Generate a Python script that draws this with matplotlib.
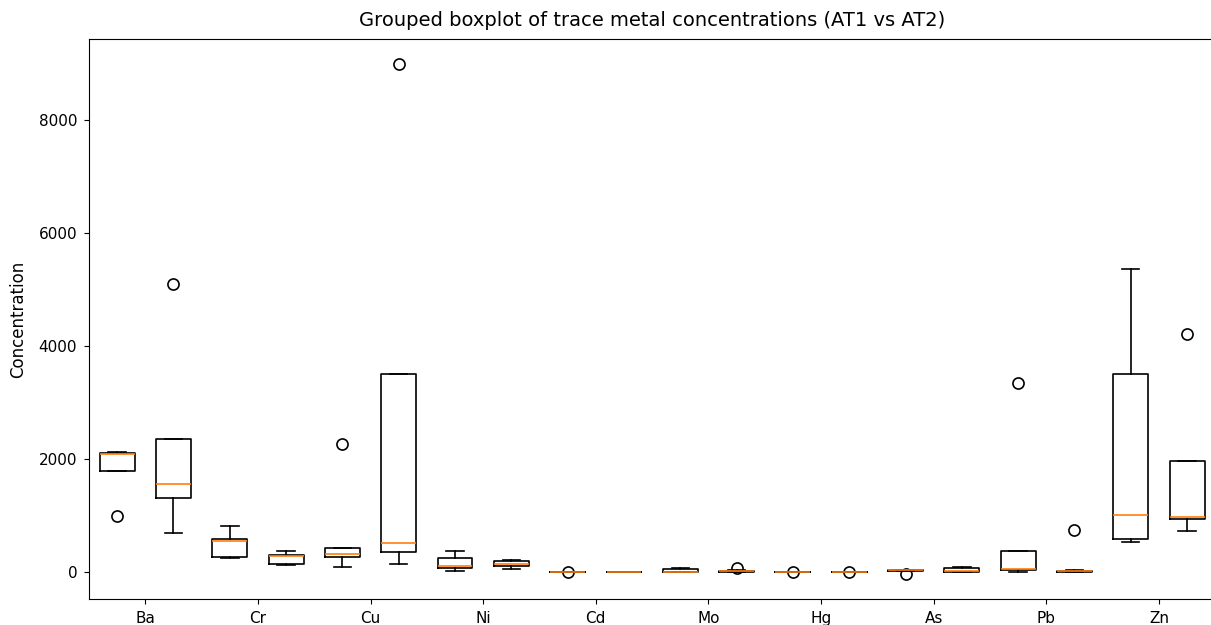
import numpy as np
from matplotlib import pyplot as plt

metals = ['Ba', 'Cr', 'Cu', 'Ni', 'Cd', 'Mo', 'Hg', 'As', 'Pb', 'Zn']

# AT1 box statistics per metal
at1_med = [2100, 560, 320, 120, 0.8, 12, 0.3, 35, 60, 1020]
at1_q1 = [1790, 270, 270, 85, 0.5, 3, 0.2, 30, 35, 595]
at1_q3 = [2110, 600, 440, 260, 1.2, 68, 0.4, 40, 385, 3505]
at1_whislo = [1790, 250, 95, 30, 0.3, 1, 0.1, 28, 12, 535]
at1_whishi = [2140, 820, 440, 385, 1.5, 70, 0.5, 45, 385, 5375]
at1_fliers = [[1000], [], [2280], [], [3.5], [], [1.5], [-20], [3360], []]

# AT2 box statistics per metal
at2_med = [1560, 285, 515, 155, 0.5, 22, 0.3, 30, 22, 980]
at2_q1 = [1320, 155, 360, 118, 0.3, 15, 0.2, 8, 15, 950]
at2_q3 = [2355, 300, 3505, 195, 0.7, 30, 0.4, 80, 30, 1965]
at2_whislo = [695, 135, 150, 58, 0.2, 10, 0.1, 4, 10, 725]
at2_whishi = [2355, 375, 3505, 212, 0.9, 40, 0.5, 90, 35, 1965]
at2_fliers = [[5110], [], [9000], [], [], [75], [1.5], [], [745], [4215]]


def make_stats(med, q1, q3, whislo, whishi, fliers):
    stats = []
    for i in range(len(med)):
        stats.append({'med': med[i], 'q1': q1[i], 'q3': q3[i],
                      'whislo': whislo[i], 'whishi': whishi[i],
                      'fliers': fliers[i]})
    return stats


at1_stats = make_stats(at1_med, at1_q1, at1_q3, at1_whislo, at1_whishi, at1_fliers)
at2_stats = make_stats(at2_med, at2_q1, at2_q3, at2_whislo, at2_whishi, at2_fliers)

x = np.arange(1, len(metals) + 1)

fig = plt.figure(figsize=(12.11, 6.25), dpi=100)
ax = fig.add_axes([0.0735, 0.0416, 0.93, 0.896])

flier_style = dict(marker='o', markersize=8, markerfacecolor='none',
                   markeredgecolor='black', markeredgewidth=1.2)
line_style = dict(color='black', linewidth=1.2)
median_style = dict(color='#ff7f0e', linewidth=1.2)

for stats, offset in ((at1_stats, -0.25), (at2_stats, 0.25)):
    ax.bxp(stats, positions=x + offset, widths=0.31, manage_ticks=False,
           boxprops=line_style, whiskerprops=line_style, capprops=line_style,
           medianprops=median_style, flierprops=flier_style)

ax.set_xticks(x)
ax.set_xticklabels(metals)
ax.set_xlim(0.5, 10.5)
ax.set_ylim(-470, 9440)
ax.tick_params(labelsize=11, pad=5)
ax.set_ylabel('Concentration', fontsize=12, labelpad=8)
ax.set_title('Grouped boxplot of trace metal concentrations (AT1 vs AT2)',
             fontsize=14, pad=9)

fig.savefig('out.png', dpi=100)
